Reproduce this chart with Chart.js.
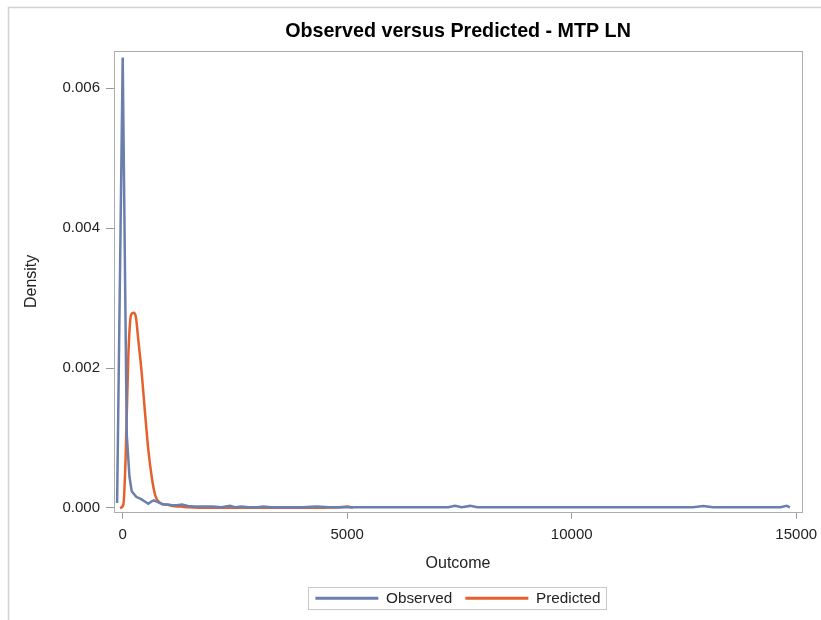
<!DOCTYPE html>
<html>
<head>
<meta charset="utf-8">
<script src="https://cdn.jsdelivr.net/npm/chart.js@4/dist/chart.umd.min.js"></script>
<style>
  html, body { margin: 0; padding: 0; background: #ffffff; }
  #wrap { width: 821px; height: 620px; position: relative; }
</style>
</head>
<body>
<div id="wrap"><canvas id="c" width="821" height="620"></canvas></div>
<script>
// ---- data ----
const chartTitle = "Observed versus Predicted - MTP LN";
const xAxisTitle = "Outcome";
const yAxisTitle = "Density";
const seriesNames = ["Observed", "Predicted"];

const xTicks = [0, 5000, 10000, 15000];
const yTicks = [0, 0.002, 0.004, 0.006];

const observedX = [-125, 0, 90, 150, 200, 300, 400, 500, 570, 630, 690, 760, 830, 900, 1000, 1100, 1200, 1320, 1450, 1600, 1800, 2000, 2200, 2390, 2500, 2650, 2800, 3000, 3130, 3300, 3600, 4000, 4320, 4600, 5000, 5500, 6000, 6500, 7000, 7250, 7400, 7550, 7740, 7900, 8200, 9000, 10000, 11000, 12000, 12700, 12930, 13150, 13500, 14000, 14500, 14650, 14790, 14860];
const observedY = [0.00007, 0.00644, 0.00105, 0.00045, 0.00024, 0.00016, 0.00013, 0.00009, 0.00006, 0.00009, 0.00011, 0.00009, 0.00007, 0.00005, 0.00005, 0.00004, 0.00004, 0.00005, 0.00003, 0.00002, 0.00002, 0.00002, 0.00001, 0.00003, 0.00001, 0.00002, 0.00001, 0.00001, 0.00002, 0.00001, 0.00001, 0.00001, 0.00002, 0.00001, 0.00001, 0.00001, 0.00001, 0.00001, 0.00001, 0.00001, 0.00003, 0.00001, 0.00003, 0.00001, 0.00001, 0.00001, 0.00001, 0.00001, 0.00001, 0.00001, 0.00003, 0.00001, 0.00001, 0.00001, 0.00001, 0.00001, 0.00003, 0.00001];

const predictedX = [-60, 15, 66, 125, 185, 237, 290, 348, 423, 497, 571, 645, 720, 794, 870, 943, 1050, 1165, 1300, 1460, 1700, 2000, 2500, 3000, 3500, 4000, 4500, 4800, 5000, 5130];
const predictedY = [0, 0.00005, 0.00074, 0.00217, 0.00276, 0.00279, 0.00274, 0.0024, 0.00193, 0.00136, 0.00083, 0.00045, 0.00019, 0.000095, 0.00006, 0.00005, 0.00004, 0.000024, 0.00002, 0.00001, 0.000005, 0.000005, 0.000005, 0.000005, 0.000005, 0.000003, 0.000005, 0.000008, 0.00002, 0.000005];

// ---- styling ----
const FONT = "'Liberation Sans', Arial, Helvetica, sans-serif";
const blue = "#6a7fad";
const orange = "#e6602c";
const frameColor = "#a9aeb4";

function toPoints(xs, ys) { return xs.map((x, i) => ({ x: x, y: ys[i] })); }

const framePlugin = {
  id: 'frame',
  beforeDraw(chart) {
    const ctx = chart.ctx;
    ctx.save();
    ctx.fillStyle = '#ffffff';
    ctx.fillRect(0, 0, chart.width, chart.height);
    ctx.strokeStyle = '#d2d2d2';
    ctx.lineWidth = 1.5;
    ctx.beginPath();
    ctx.moveTo(8.5, chart.height);
    ctx.lineTo(8.5, 7.5);
    ctx.lineTo(chart.width, 7.5);
    ctx.stroke();
    ctx.restore();
  },
  afterDraw(chart) {
    const ctx = chart.ctx;
    const a = chart.chartArea;
    ctx.save();
    ctx.strokeStyle = frameColor;
    ctx.lineWidth = 1;
    ctx.strokeRect(Math.round(a.left) + 0.5, Math.round(a.top) + 0.5, Math.round(a.right - a.left), Math.round(a.bottom - a.top));
    // legend border
    const lg = chart.legend;
    if (lg && lg.legendHitBoxes && lg.legendHitBoxes.length) {
      const hb = lg.legendHitBoxes;
      const l = hb[0].left - 7;
      const r = hb[hb.length - 1].left + hb[hb.length - 1].width + 6;
      const cy = hb[0].top + hb[0].height / 2;
      ctx.strokeStyle = '#c8c8c8';
      ctx.strokeRect(Math.round(l) + 0.5, Math.round(cy - 11) + 0.5, Math.round(r - l), 22);
    }
    ctx.restore();
  }
};

new Chart(document.getElementById('c'), {
  type: 'scatter',
  data: {
    datasets: [
      {
        label: seriesNames[0],
        data: toPoints(observedX, observedY),
        showLine: true,
        borderColor: blue,
        backgroundColor: blue,
        borderWidth: 2.5,
        pointRadius: 0,
        tension: 0
      },
      {
        label: seriesNames[1],
        data: toPoints(predictedX, predictedY),
        showLine: true,
        borderColor: orange,
        backgroundColor: orange,
        borderWidth: 2.5,
        pointRadius: 0,
        cubicInterpolationMode: 'monotone'
      }
    ]
  },
  options: {
    responsive: false,
    animation: false,
    layout: { padding: { left: 22, right: 19, top: 10, bottom: 4 } },
    plugins: {
      tooltip: { enabled: false },
      title: {
        display: true,
        fullSize: false,
        text: chartTitle,
        color: '#000000',
        font: { family: FONT, size: 19.7, weight: 'bold' },
        padding: { top: 9.5, bottom: 7.9 }
      },
      legend: {
        display: true,
        position: 'bottom',
        fullSize: false,
        labels: {
          boxWidth: 63,
          boxHeight: 3,
          padding: 13,
          color: '#222222',
          font: { family: FONT, size: 15.3 },
          generateLabels(chart) {
            return chart.data.datasets.map((ds, i) => ({
              text: ds.label,
              fillStyle: ds.borderColor,
              strokeStyle: ds.borderColor,
              lineWidth: 0,
              hidden: false,
              datasetIndex: i,
              fontColor: '#222222'
            }));
          }
        }
      }
    },
    scales: {
      x: {
        type: 'linear',
        min: -194,
        max: 15129,
        afterFit(s) { s.height = 66; s.paddingLeft = 0; s.paddingRight = 0; },
        afterBuildTicks(s) { s.ticks = xTicks.map(v => ({ value: v })); },
        grid: { display: true, drawOnChartArea: false, drawTicks: true, tickLength: 7, color: '#999999', tickColor: '#999999' },
        border: { display: false },
        ticks: {
          color: '#222222',
          font: { family: FONT, size: 15 },
          padding: 7,
          maxRotation: 0,
          autoSkip: false,
          callback: (v) => String(v)
        },
        title: {
          display: true,
          text: xAxisTitle,
          color: '#222222',
          font: { family: FONT, size: 16 },
          padding: { top: 0, bottom: 5 }
        }
      },
      y: {
        type: 'linear',
        min: -0.000053,
        max: 0.006533,
        afterFit(s) { s.width = 92; },
        afterBuildTicks(s) { s.ticks = yTicks.map(v => ({ value: v })); },
        grid: { display: true, drawOnChartArea: false, drawTicks: true, tickLength: 8, color: '#999999', tickColor: '#999999' },
        border: { display: false },
        ticks: {
          color: '#222222',
          font: { family: FONT, size: 15 },
          padding: 6,
          autoSkip: false,
          callback: (v) => Number(v).toFixed(3)
        },
        title: {
          display: true,
          text: yAxisTitle,
          color: '#222222',
          font: { family: FONT, size: 16 },
          padding: { top: 0, bottom: 0 }
        }
      }
    }
  },
  plugins: [framePlugin]
});
</script>
</body>
</html>
